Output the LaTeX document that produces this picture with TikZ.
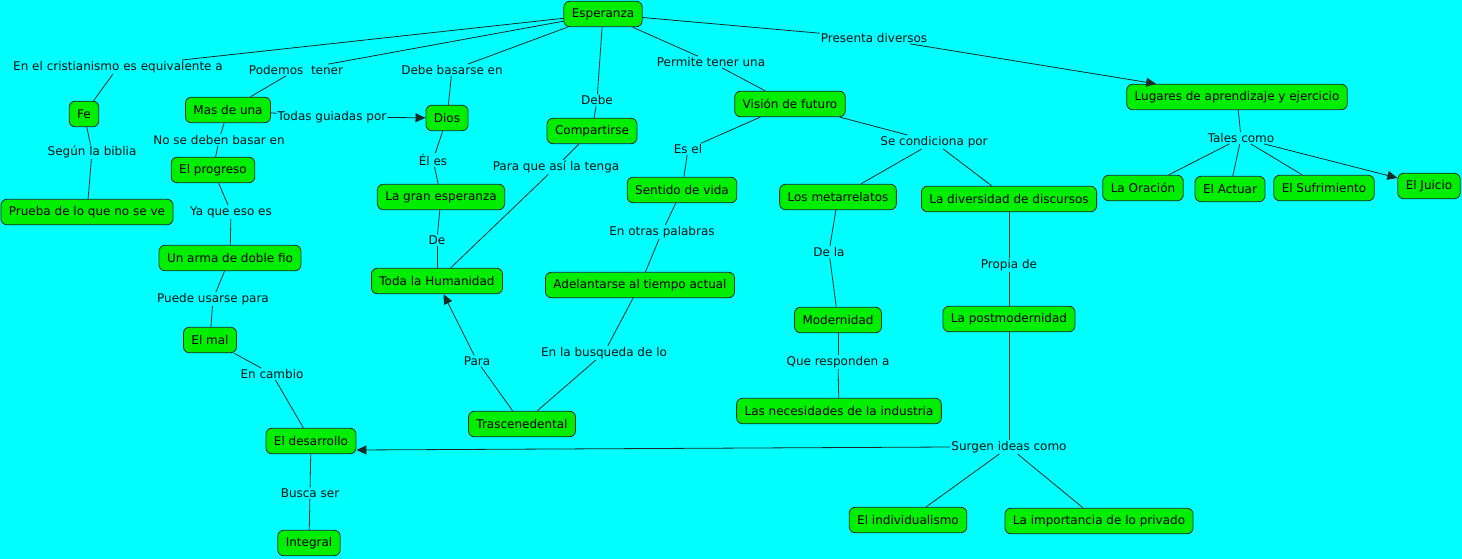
\documentclass[tikz,border=0pt]{standalone}
\usepackage{fontspec}
\setmainfont{DejaVu Sans}
\usetikzlibrary{arrows.meta}
\definecolor{bg}{RGB}{0,255,255}
\definecolor{nodegreen}{RGB}{0,238,0}
\definecolor{edgecol}{RGB}{25,45,40}
\tikzset{
  concept/.style={draw=edgecol, fill=nodegreen, rounded corners=6pt, line width=0.8pt,
    inner xsep=8pt, inner ysep=2pt, minimum height=25.5pt, font=\fontsize{12}{14}\selectfont},
  phrase/.style={inner sep=1pt, text=black!85!teal, font=\fontsize{12}{14}\selectfont},
  link/.style={draw=edgecol, line width=0.8pt},
  arr/.style={link, -{Triangle[length=10pt,width=9pt]}}
}
\begin{document}
\begin{tikzpicture}[x=1pt,y=-1pt]
\fill[bg] (0,0) rectangle (1462,559);
\useasboundingbox (0,0) rectangle (1462,559);
% concepts
\node[concept] (esp) at (603,14) {Esperanza};
\node[concept] (fe) at (84,114) {Fe};
\node[concept] (prueba) at (87,212) {Prueba de lo que no se ve};
\node[concept] (mas) at (228,110) {Mas de una};
\node[concept] (dios) at (447,118) {Dios};
\node[concept] (prog) at (213,170) {El progreso};
\node[concept] (arma) at (230,258) {Un arma de doble fio};
\node[concept] (mal) at (210,340) {El mal};
\node[concept] (desa) at (311,441) {El desarrollo};
\node[concept] (integ) at (309,543) {Integral};
\node[concept] (gran) at (441,197) {La gran esperanza};
\node[concept] (toda) at (437,281) {Toda la Humanidad};
\node[concept] (comp) at (592,131) {Compartirse};
\node[concept] (tras) at (522,424) {Trascenedental};
\node[concept] (adel) at (640,285) {Adelantarse al tiempo actual};
\node[concept] (vision) at (790,104) {Visión de futuro};
\node[concept] (sentido) at (682,190) {Sentido de vida};
\node[concept] (meta) at (838,197) {Los metarrelatos};
\node[concept] (divers) at (1009,199) {La diversidad de discursos};
\node[concept] (moder) at (838,320) {Modernidad};
\node[concept] (neces) at (839,411) {Las necesidades de la industria};
\node[concept] (postm) at (1009,319) {La postmodernidad};
\node[concept] (indiv) at (908,520) {El individualismo};
\node[concept] (import) at (1099,521) {La importancia de lo privado};
\node[concept] (lugares) at (1237,97) {Lugares de aprendizaje y ejercicio};
\node[concept] (oracion) at (1143,188) {La Oración};
\node[concept] (actuar) at (1230,189) {El Actuar};
\node[concept] (sufri) at (1324,188) {El Sufrimiento};
\node[concept] (juicio) at (1429,186) {El Juicio};
% linking phrases
\node[phrase] (lcrist) at (118,67) {En el cristianismo es equivalente a};
\node[phrase] (lpod) at (296,70) {Podemos\ \ tener};
\node[phrase] (lbas) at (452,70) {Debe basarse en};
\node[phrase] (ldebe) at (597,100) {Debe};
\node[phrase] (lperm) at (711,62) {Permite tener una};
\node[phrase] (lpres) at (874,38) {Presenta diversos};
\node[phrase] (ltodas) at (332,117) {Todas guiadas por};
\node[phrase] (lnose) at (219,140) {No se deben basar en};
\node[phrase] (lsegun) at (92,152) {Según la biblia};
\node[phrase] (lel) at (433,160) {Él es};
\node[phrase] (lpara) at (556,167) {Para que así la tenga};
\node[phrase] (lesel) at (688,149) {Es el};
\node[phrase] (lcond) at (934,142) {Se condiciona por};
\node[phrase] (ltales) at (1241,138) {Tales como};
\node[phrase] (lya) at (231,212) {Ya que eso es};
\node[phrase] (lde) at (437,240) {De};
\node[phrase] (lotras) at (662,232) {En otras palabras};
\node[phrase] (ldela) at (829,252) {De la};
\node[phrase] (lpropia) at (1009,265) {Propia de};
\node[phrase] (lpuede) at (213,299) {Puede usarse para};
\node[phrase] (lparaT) at (477,361) {Para};
\node[phrase] (lbusq) at (604,353) {En la busqueda de lo};
\node[phrase] (lque) at (838,362) {Que responden a};
\node[phrase] (lcambio) at (272,374) {En cambio};
\node[phrase] (lsurgen) at (1009,447) {Surgen ideas como};
\node[phrase] (lbusca) at (310,493) {Busca ser};
% connectors
\draw[link] (esp) -- (lcrist); \draw[link] (lcrist) -- (fe);
\draw[link] (esp) -- (lpod); \draw[link] (lpod) -- (mas);
\draw[link] (esp) -- (lbas); \draw[link] (lbas) -- (dios);
\draw[link] (esp) -- (ldebe); \draw[link] (ldebe) -- (comp);
\draw[link] (esp) -- (lperm); \draw[link] (lperm) -- (vision);
\draw[link] (esp) -- (lpres); \draw[arr] (lpres) -- (lugares);
\draw[link] (mas) -- (ltodas); \draw[arr] (ltodas) -- (dios);
\draw[link] (mas) -- (lnose); \draw[link] (lnose) -- (prog);
\draw[link] (fe) -- (lsegun); \draw[link] (lsegun) -- (prueba);
\draw[link] (dios) -- (lel); \draw[link] (lel) -- (gran);
\draw[link] (gran) -- (lde); \draw[link] (lde) -- (toda);
\draw[link] (comp) -- (lpara); \draw[link] (lpara) -- (toda);
\draw[link] (vision) -- (lesel); \draw[link] (lesel) -- (sentido);
\draw[link] (vision) -- (lcond); \draw[link] (lcond) -- (meta); \draw[link] (lcond) -- (divers);
\draw[link] (lugares) -- (ltales);
\draw[link] (ltales) -- (oracion); \draw[link] (ltales) -- (actuar);
\draw[link] (ltales) -- (sufri); \draw[arr] (ltales) -- (juicio);
\draw[link] (prog) -- (lya); \draw[link] (lya) -- (arma);
\draw[link] (arma) -- (lpuede); \draw[link] (lpuede) -- (mal);
\draw[link] (mal) -- (lcambio); \draw[link] (lcambio) -- (desa);
\draw[link] (desa) -- (lbusca); \draw[link] (lbusca) -- (integ);
\draw[link] (sentido) -- (lotras); \draw[link] (lotras) -- (adel);
\draw[link] (adel) -- (lbusq); \draw[link] (lbusq) -- (tras);
\draw[link] (tras) -- (lparaT); \draw[arr] (lparaT) -- (toda);
\draw[link] (meta) -- (ldela); \draw[link] (ldela) -- (moder);
\draw[link] (moder) -- (lque); \draw[link] (lque) -- (neces);
\draw[link] (divers) -- (lpropia); \draw[link] (lpropia) -- (postm);
\draw[link] (postm) -- (lsurgen);
\draw[link] (lsurgen) -- (indiv); \draw[link] (lsurgen) -- (import);
\draw[arr] (lsurgen.west) -- ([yshift=-9pt]desa.east);
\end{tikzpicture}
\end{document}
